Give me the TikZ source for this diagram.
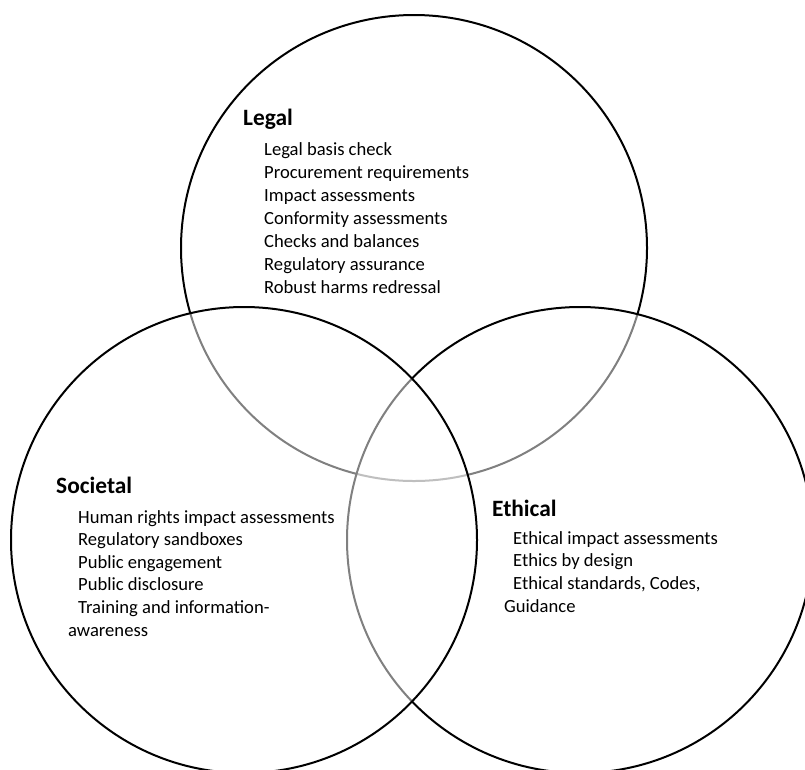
\documentclass[tikz,border=0pt]{standalone}
\usepackage{fontspec}
\setmainfont{Carlito}
\newcommand{\itemfont}{\fontsize{18.6}{22.8}\selectfont}
\newcommand{\headfont}{\fontsize{23.4}{28}\selectfont\bfseries}
\tikzset{
  ring/.style={line width=2pt, draw=black, fill=white, fill opacity=0.5},
  itemtxt/.style={anchor=base west, inner sep=0pt, font=\itemfont, text=black},
  headtxt/.style={anchor=base west, inner sep=0pt, font=\headfont, text=black}
}
\begin{document}
\begin{tikzpicture}[x=1pt,y=-1pt]
\useasboundingbox (0,0) rectangle (805,769);
\clip (0,0) rectangle (805,769);
% circles: top, right, left (later ones grey the earlier strokes)
\coordinate (cl) at (414,248);
\coordinate (ce) at (580,540);
\coordinate (cs) at (244,540);
\path[ring] (cl) circle[radius=233];
\path[ring] (ce) circle[radius=233];
\path[ring] (cs) circle[radius=233];
% Legal
\node[headtxt] (legal) at (243,125) {Legal};
\foreach \t [count=\i] in {Legal basis check, Procurement requirements, Impact assessments, Conformity assessments, Checks and balances, Regulatory assurance, Robust harms redressal}
  \node[itemtxt] (legal\i) at (264,{155+23*(\i-1)}) {\t};
% Societal
\node[headtxt] (soc) at (56,493) {Societal};
\foreach \t [count=\i] in {Human rights impact assessments, Regulatory sandboxes, Public engagement, Public disclosure, Training and information-}
  \node[itemtxt] (soc\i) at (78,{523+22.6*(\i-1)}) {\t};
\node[itemtxt] (soc6) at (68,636) {awareness};
% Ethical
\node[headtxt] (eth) at (492,516) {Ethical};
\node[itemtxt] (eth1) at (513,544) {Ethical impact assessments};
\node[itemtxt] (eth2) at (513,566.7) {Ethics by design};
\node[itemtxt] (eth3) at (513,589.4) {Ethical standards, Codes,};
\node[itemtxt] (eth4) at (504,612) {Guidance};
\end{tikzpicture}
\end{document}
